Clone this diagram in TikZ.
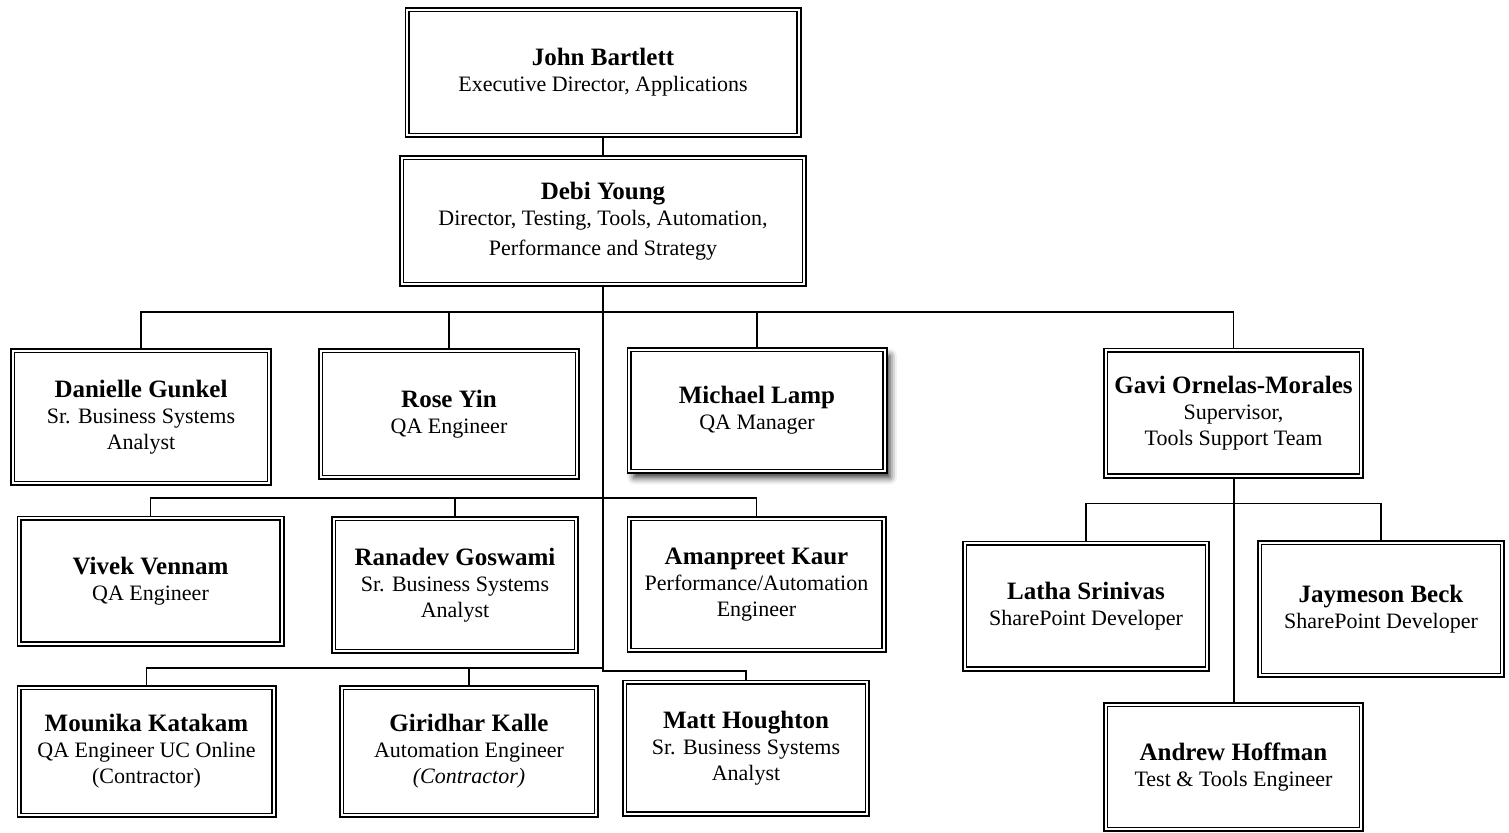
\documentclass[tikz,border=0pt]{standalone}
\usepackage{fontspec}
\setmainfont{Liberation Serif}
\usetikzlibrary{backgrounds, shadows.blur}

\newcommand{\pname}[1]{{\fontsize{12.5}{13}\selectfont\bfseries #1}}

\begin{document}
\begin{tikzpicture}[
  x=0.5pt, y=-0.5pt,
  person/.style={draw=black, fill=white, double, line width=0.9pt,
    double distance=0.9pt, align=center, inner sep=0pt,
    font=\fontsize{11}{13}\selectfont},
  link/.style={draw=black, line width=0.7pt},
  trunk/.style={draw=black, line width=1pt}
]
\useasboundingbox (0,0) rectangle (1509,832);

%% ── top ──────────────────────────────────────────────────────────────────────
\node[person, minimum width=195.8pt, minimum height=62.8pt] (john) at (603,72.5)
  {\pname{John Bartlett}\\Executive Director, Applications};
\node[person, minimum width=201.3pt, minimum height=63.3pt] (debi) at (603,221)
  {\pname{Debi Young}\\Director, Testing, Tools, Automation,\\[2pt]Performance and Strategy};

%% ── first row ────────────────────────────────────────────────────────────────
\node[person, minimum width=128.3pt, minimum height=66.3pt] (danielle) at (141,417)
  {\pname{Danielle Gunkel}\\Sr. Business Systems\\Analyst};
\node[person, minimum width=128.3pt, minimum height=63.3pt] (rose) at (449,414)
  {\pname{Rose Yin}\\QA Engineer};
\node[person, minimum width=127.8pt, minimum height=60.8pt,
  blur shadow={shadow xshift=2.5pt, shadow yshift=-3pt, shadow blur radius=3.5pt, shadow opacity=85}]
  (michael) at (757,410.5)
  {\pname{Michael Lamp}\\QA Manager};
\node[person, minimum width=127.8pt, minimum height=62.8pt] (gavi) at (1233.5,413)
  {\pname{Gavi Ornelas-Morales}\\Supervisor,\\Tools Support Team};

%% ── second row ───────────────────────────────────────────────────────────────
\node[person, minimum width=131.3pt, minimum height=62.8pt] (vivek) at (150.5,581)
  {\pname{Vivek Vennam}\\QA Engineer};
\node[person, minimum width=121.3pt, minimum height=66.3pt] (ranadev) at (455,585)
  {\pname{Ranadev Goswami}\\Sr. Business Systems\\Analyst};
\node[person, minimum width=127.3pt, minimum height=65.8pt] (amanpreet) at (756.5,584.5)
  {\pname{Amanpreet Kaur}\\Performance/Automation\\Engineer};

%% ── third row ────────────────────────────────────────────────────────────────
\node[person, minimum width=127.3pt, minimum height=63.8pt] (mounika) at (146.5,751.5)
  {\pname{Mounika Katakam}\\QA Engineer UC Online\\(Contractor)};
\node[person, minimum width=127.3pt, minimum height=63.8pt] (giridhar) at (469,751.5)
  {\pname{Giridhar Kalle}\\Automation Engineer\\\textit{(Contractor)}};
\node[person, minimum width=121.3pt, minimum height=65.8pt] (matt) at (746,748)
  {\pname{Matt Houghton}\\Sr. Business Systems\\Analyst};

%% ── tools support team ───────────────────────────────────────────────────────
\node[person, minimum width=121.3pt, minimum height=62.8pt] (latha) at (1086,606)
  {\pname{Latha Srinivas}\\SharePoint Developer};
\node[person, minimum width=121.3pt, minimum height=66.3pt] (jaymeson) at (1381,609)
  {\pname{Jaymeson Beck}\\SharePoint Developer};
\node[person, minimum width=127.8pt, minimum height=62.3pt] (andrew) at (1233.5,767)
  {\pname{Andrew Hoffman}\\Test \& Tools Engineer};

%% ── connectors ───────────────────────────────────────────────────────────────
\coordinate (busA) at (603,312);
\coordinate (busB) at (603,498);
\coordinate (busC) at (603,668);
\coordinate (busD) at (603,670.5);
\coordinate (busE) at (1233.5,503.5);

\begin{pgfonlayer}{background}
  \draw[trunk] (john.south) -- (debi.north);
  \draw[trunk] (debi.south) -- (busD) -| (matt.north);

  \draw[link] (danielle.north) |- (busA) -| (gavi.north);
  \foreach \n in {rose, michael}
    \draw[link] (\n.north) -- (\n.north |- busA);

  \draw[link] (vivek.north) |- (busB) -| (amanpreet.north);
  \draw[link] (ranadev.north) -- (ranadev.north |- busB);

  \draw[link] (mounika.north) |- (busC);
  \draw[link] (giridhar.north) -- (giridhar.north |- busC);

  \draw[trunk] (gavi.south) -- (andrew.north);
  \draw[link] (latha.north) |- (busE) -| (jaymeson.north);
\end{pgfonlayer}

\end{tikzpicture}
\end{document}
